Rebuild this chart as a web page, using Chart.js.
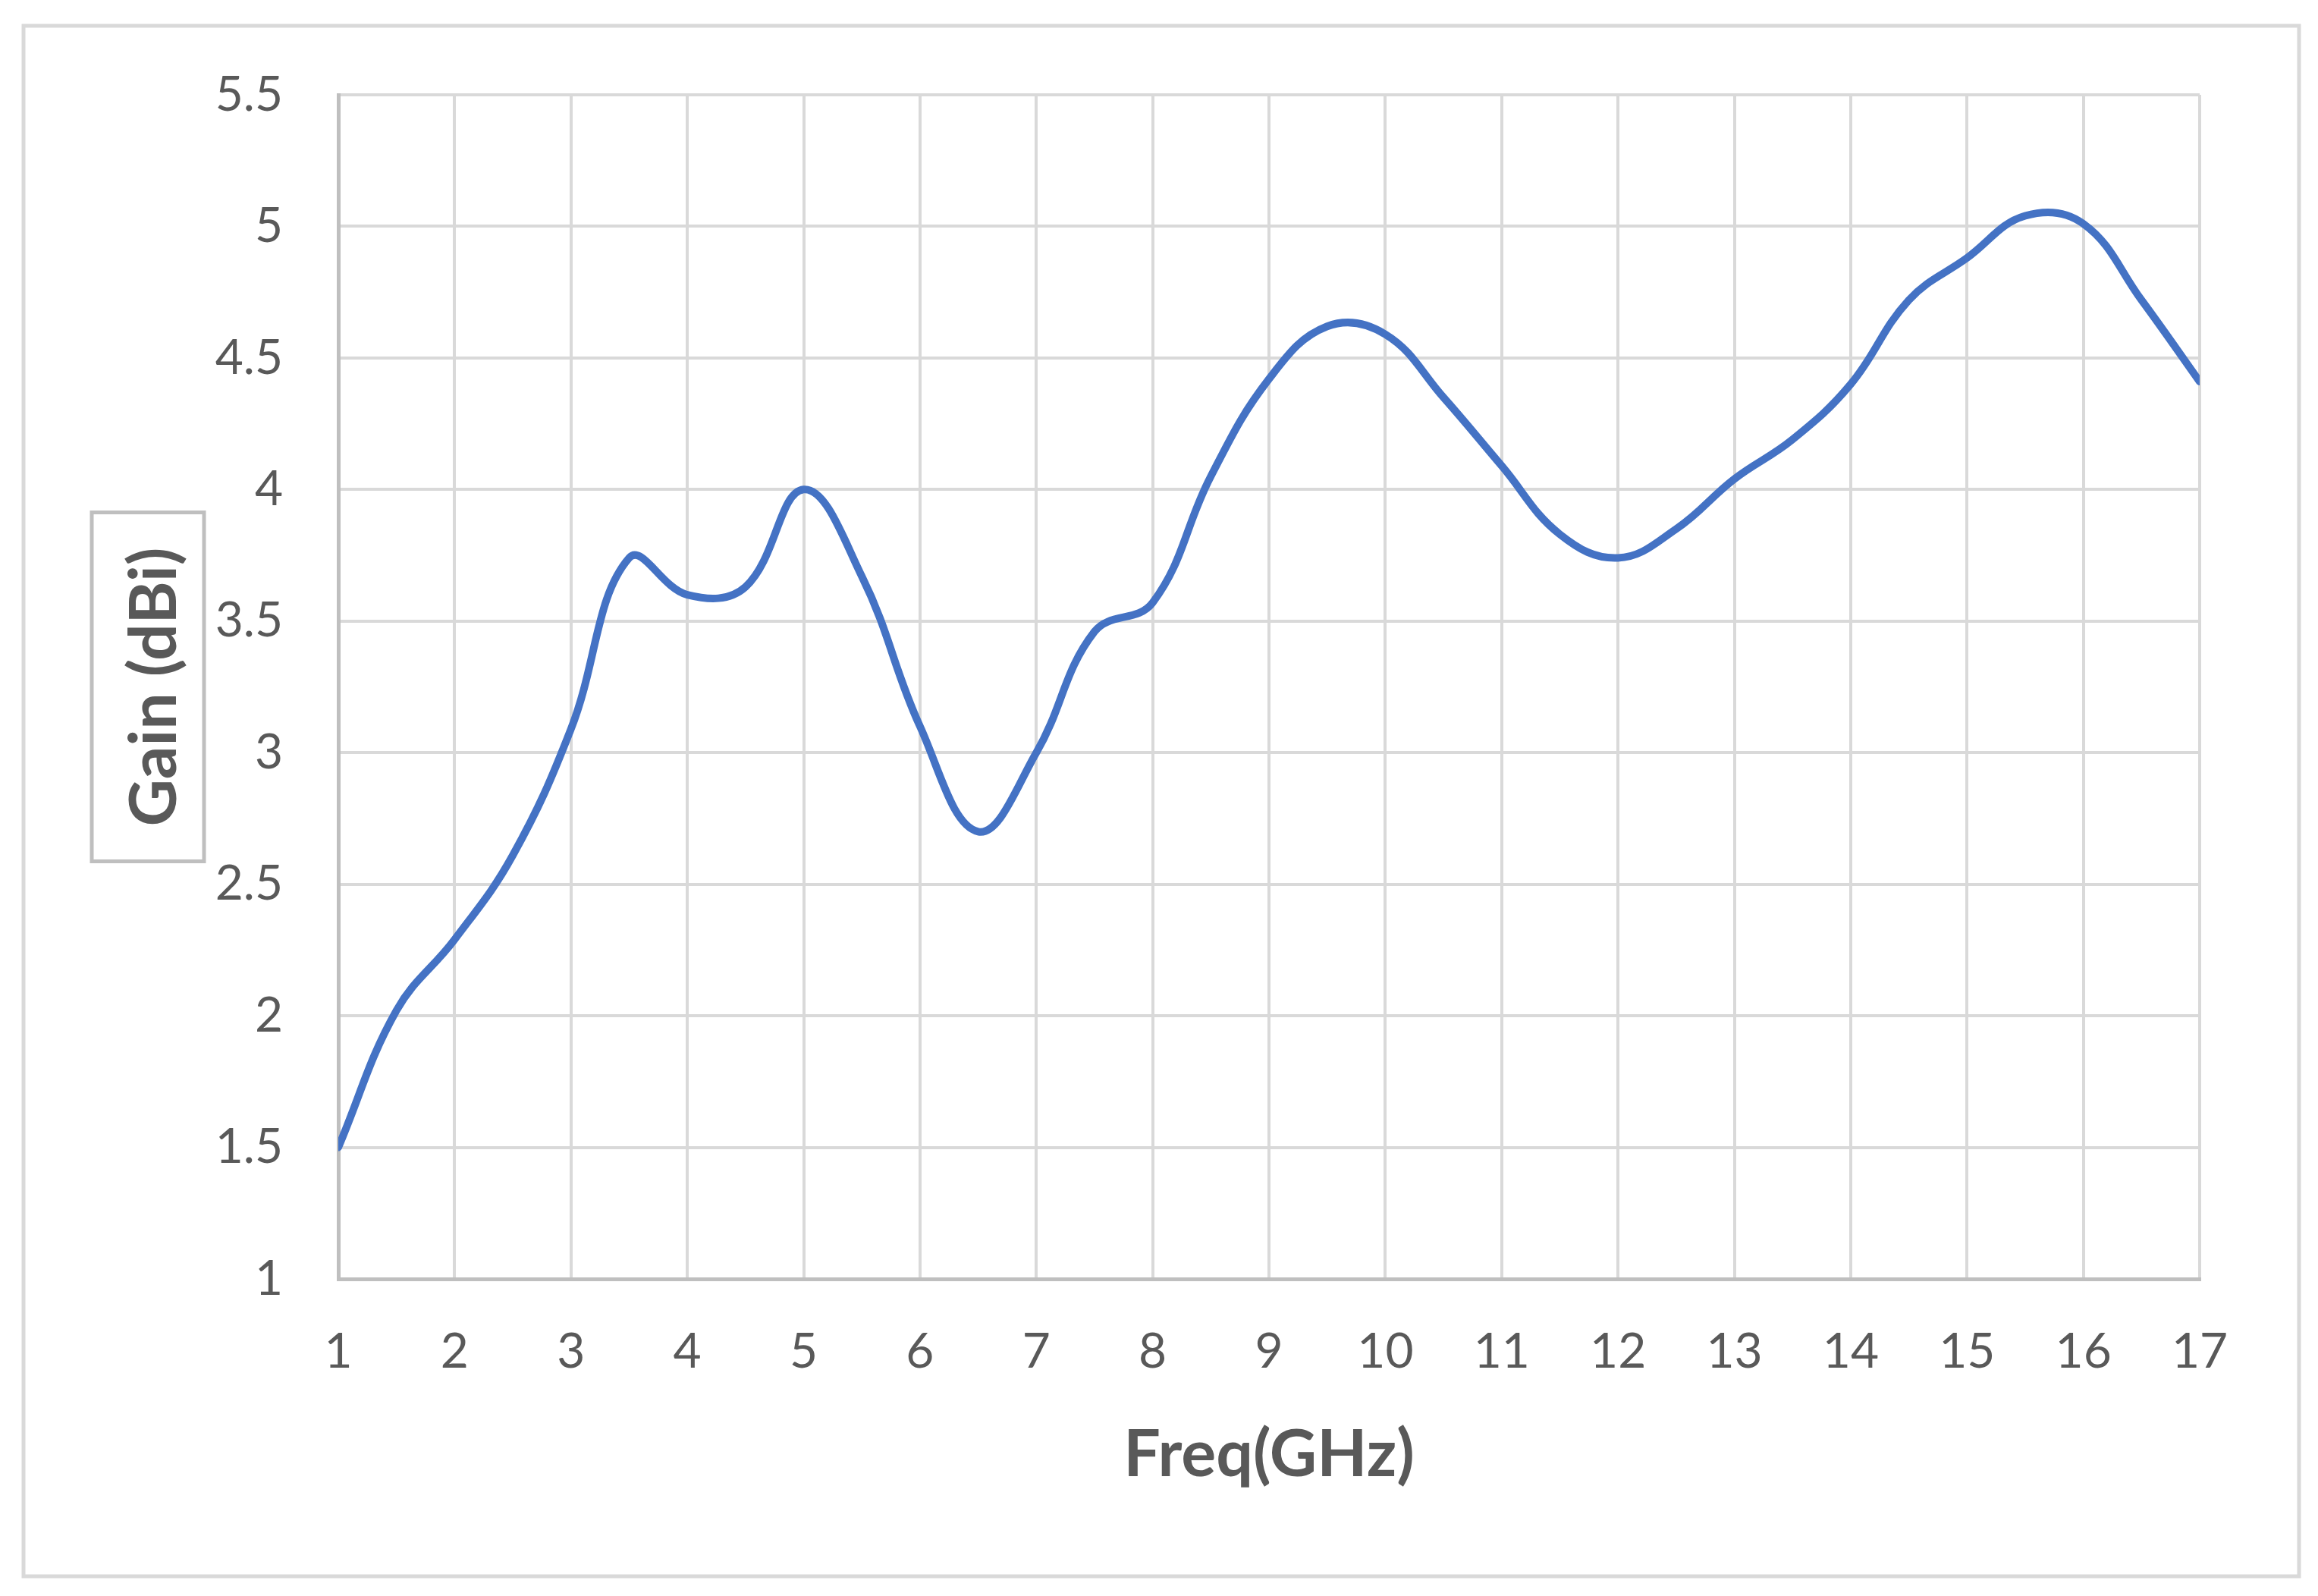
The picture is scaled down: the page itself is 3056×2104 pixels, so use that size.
<!DOCTYPE html>
<html>
<head>
<meta charset="utf-8">
<script src="https://cdn.jsdelivr.net/npm/chart.js@4"></script>
<style>
  html, body { margin: 0; padding: 0; background: #fff; }
  canvas { display: block; }
</style>
</head>
<body>
<canvas id="chart" width="3056" height="2104"></canvas>
<script>
// data
const freqs = [1, 1.5, 2, 2.5, 3, 3.5, 4, 4.5, 5, 5.5, 6, 6.5, 7, 7.5, 8, 8.5, 9,
  9.5, 10, 10.5, 11, 11.5, 12, 12.5, 13, 13.5, 14, 14.5, 15, 15.5, 16, 16.5, 17];
const gain = [1.50, 2.02, 2.29, 2.61, 3.09, 3.74, 3.60, 3.63, 4.00, 3.67, 3.10, 2.70, 3.00,
  3.46, 3.57, 4.05, 4.42, 4.62, 4.59, 4.35, 4.09, 3.83, 3.74, 3.85, 4.04, 4.19, 4.40,
  4.72, 4.88, 5.04, 5.01, 4.72, 4.41];
const xLabel = 'Freq(GHz)';
const yLabel = 'Gain (dBi)';

const textColor = '#595959';
const fontFamily = 'Lato, "Open Sans", sans-serif';

// outer frame + boxed y title
const framePlugin = {
  id: 'frame',
  beforeDraw(chart) {
    const ctx = chart.ctx;
    ctx.save();
    ctx.fillStyle = '#ffffff';
    ctx.fillRect(0, 0, chart.width, chart.height);
    ctx.strokeStyle = '#d9d9d9';
    ctx.lineWidth = 5;
    ctx.strokeRect(31, 34, 3000, 2044);
    ctx.restore();
  },
  afterDraw(chart) {
    const ctx = chart.ctx;
    const y = chart.scales.y;
    const cy = (y.top + y.bottom) / 2;
    ctx.save();
    ctx.strokeStyle = '#bfbfbf';
    ctx.lineWidth = 5;
    ctx.strokeRect(121, cy - 230, 148, 460);
    ctx.translate(232, cy);
    ctx.rotate(-Math.PI / 2);
    ctx.fillStyle = textColor;
    ctx.font = 'bold 86px ' + fontFamily;
    ctx.textAlign = 'center';
    ctx.textBaseline = 'alphabetic';
    ctx.fillText(yLabel, 0, 0);
    ctx.restore();
  }
};

new Chart(document.getElementById('chart').getContext('2d'), {
  type: 'line',
  data: {
    datasets: [{
      data: freqs.map((f, i) => ({ x: f, y: gain[i] })),
      borderColor: '#4472C4',
      borderWidth: 10,
      borderCapStyle: 'round',
      borderJoinStyle: 'round',
      pointRadius: 0,
      tension: 0.4,
      fill: false
    }]
  },
  options: {
    responsive: false,
    animation: false,
    devicePixelRatio: 1,
    layout: { padding: { left: 0, top: 125, right: 156, bottom: 0 } },
    plugins: { legend: { display: false }, tooltip: { enabled: false } },
    scales: {
      x: {
        type: 'linear',
        min: 1,
        max: 17,
        afterFit: s => { s.height = 418; },
        ticks: { stepSize: 1, padding: 58, color: textColor, font: { family: fontFamily, size: 64 } },
        grid: { color: '#d9d9d9', lineWidth: 4, drawTicks: false },
        border: { color: '#bfbfbf', width: 5 },
        title: {
          display: true,
          text: xLabel,
          color: textColor,
          font: { family: fontFamily, size: 86, weight: 'bold' },
          padding: { top: 0, bottom: 134 }
        }
      },
      y: {
        min: 1,
        max: 5.5,
        afterFit: s => { s.width = 446; },
        ticks: {
          stepSize: 0.5,
          padding: 73,
          color: textColor,
          font: { family: fontFamily, size: 64 },
          callback: v => String(Number(v.toFixed(1)))
        },
        grid: { color: '#d9d9d9', lineWidth: 4, drawTicks: false },
        border: { color: '#bfbfbf', width: 5 }
      }
    }
  },
  plugins: [framePlugin]
});
</script>
</body>
</html>
